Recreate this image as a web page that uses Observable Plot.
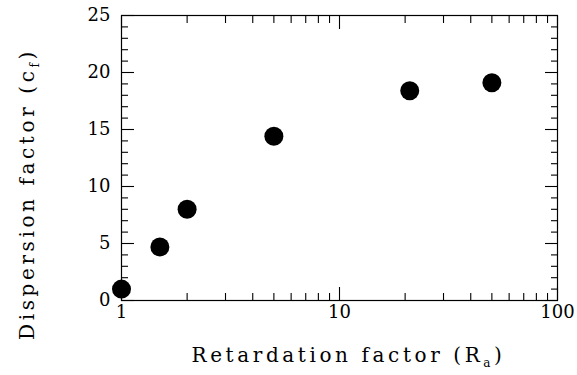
<!DOCTYPE html>
<html>
<head>
<meta charset="utf-8">
<script src="https://cdn.jsdelivr.net/npm/d3@7"></script>
<script src="https://cdn.jsdelivr.net/npm/@observablehq/plot@0.6"></script>
<style>
  body { margin: 0; background: #fff; }
</style>
</head>
<body>
<div id="chart"></div>
<script>
// Dispersion factor against retardation factor
const retardation = [1, 1.5, 2, 5, 21, 50];
const dispersion = [1.0, 4.7, 8.0, 14.4, 18.4, 19.1];

const xMajorTicks = [1, 10, 100];
const xMinorTicks = [2, 3, 4, 5, 6, 7, 8, 9, 20, 30, 40, 50, 60, 70, 80, 90];
const yMajorTicks = [0, 5, 10, 15, 20, 25];
const yMinorTicks = [1, 2, 3, 4, 6, 7, 8, 9, 11, 12, 13, 14, 16, 17, 18, 19, 21, 22, 23, 24];

// axis titles: [main text, subscript, closing text]
const xTitle = ["Retardation factor (R", "a", ")"];
const yTitle = ["Dispersion factor (c", "f", ")"];

const points = retardation.map((x, i) => ({x, y: dispersion[i]}));

const font = "'DejaVu Serif', serif";
const noLabel = () => "";
const tickAxis = (axis, ticks, anchor, size) =>
  axis(ticks, {anchor, tickSize: -size, tickFormat: noLabel, label: null, strokeWidth: 1.1});

const chart = Plot.plot({
  width: 577,
  height: 375,
  marginLeft: 121,
  marginRight: 20,
  marginTop: 15,
  marginBottom: 75,
  style: {fontFamily: font, fontSize: "18px", color: "black", background: "white"},
  x: {type: "log", domain: [1, 100]},
  y: {domain: [0, 25]},
  marks: [
    Plot.frame({stroke: "black", strokeWidth: 1.2}),
    // inward ticks on all four sides
    tickAxis(Plot.axisX, xMajorTicks, "bottom", 13),
    tickAxis(Plot.axisX, xMinorTicks, "bottom", 7),
    tickAxis(Plot.axisX, xMajorTicks, "top", 13),
    tickAxis(Plot.axisX, xMinorTicks, "top", 7),
    tickAxis(Plot.axisY, yMajorTicks, "left", 13),
    tickAxis(Plot.axisY, yMinorTicks, "left", 7),
    tickAxis(Plot.axisY, yMajorTicks, "right", 13),
    tickAxis(Plot.axisY, yMinorTicks, "right", 7),
    // tick labels
    Plot.axisX(xMajorTicks, {anchor: "bottom", tickSize: 0, tickPadding: 5, tickFormat: d => String(d), label: null, fontSize: 18}),
    Plot.axisY(yMajorTicks, {anchor: "left", tickSize: 0, tickPadding: 11, tickFormat: d => String(d), label: null, fontSize: 18}),
    // axis titles
    Plot.text([xTitle.join("")], {frameAnchor: "bottom", textAnchor: "middle", lineAnchor: "middle", dx: 9, dy: 55, fontSize: 20, className: "x-title"}),
    Plot.text([yTitle.join("")], {frameAnchor: "left", textAnchor: "middle", lineAnchor: "middle", rotate: -90, dx: -94, dy: 36, fontSize: 20, className: "y-title"}),
    // data points
    Plot.dot(points, {x: "x", y: "y", r: 9.5, fill: "black", stroke: "none"})
  ]
});

// rebuild the titles with subscripts
function withSubscript(selector, parts) {
  const t = d3.select(chart).select(`.${selector} text`);
  t.text(null).attr("letter-spacing", "3.6");
  t.append("tspan").text(parts[0]);
  t.append("tspan").attr("dy", 5).attr("font-size", 12).text(parts[1]);
  t.append("tspan").attr("dy", -5).text(parts[2]);
}
withSubscript("x-title", xTitle);
withSubscript("y-title", yTitle);

document.getElementById("chart").appendChild(chart);
</script>
</body>
</html>
